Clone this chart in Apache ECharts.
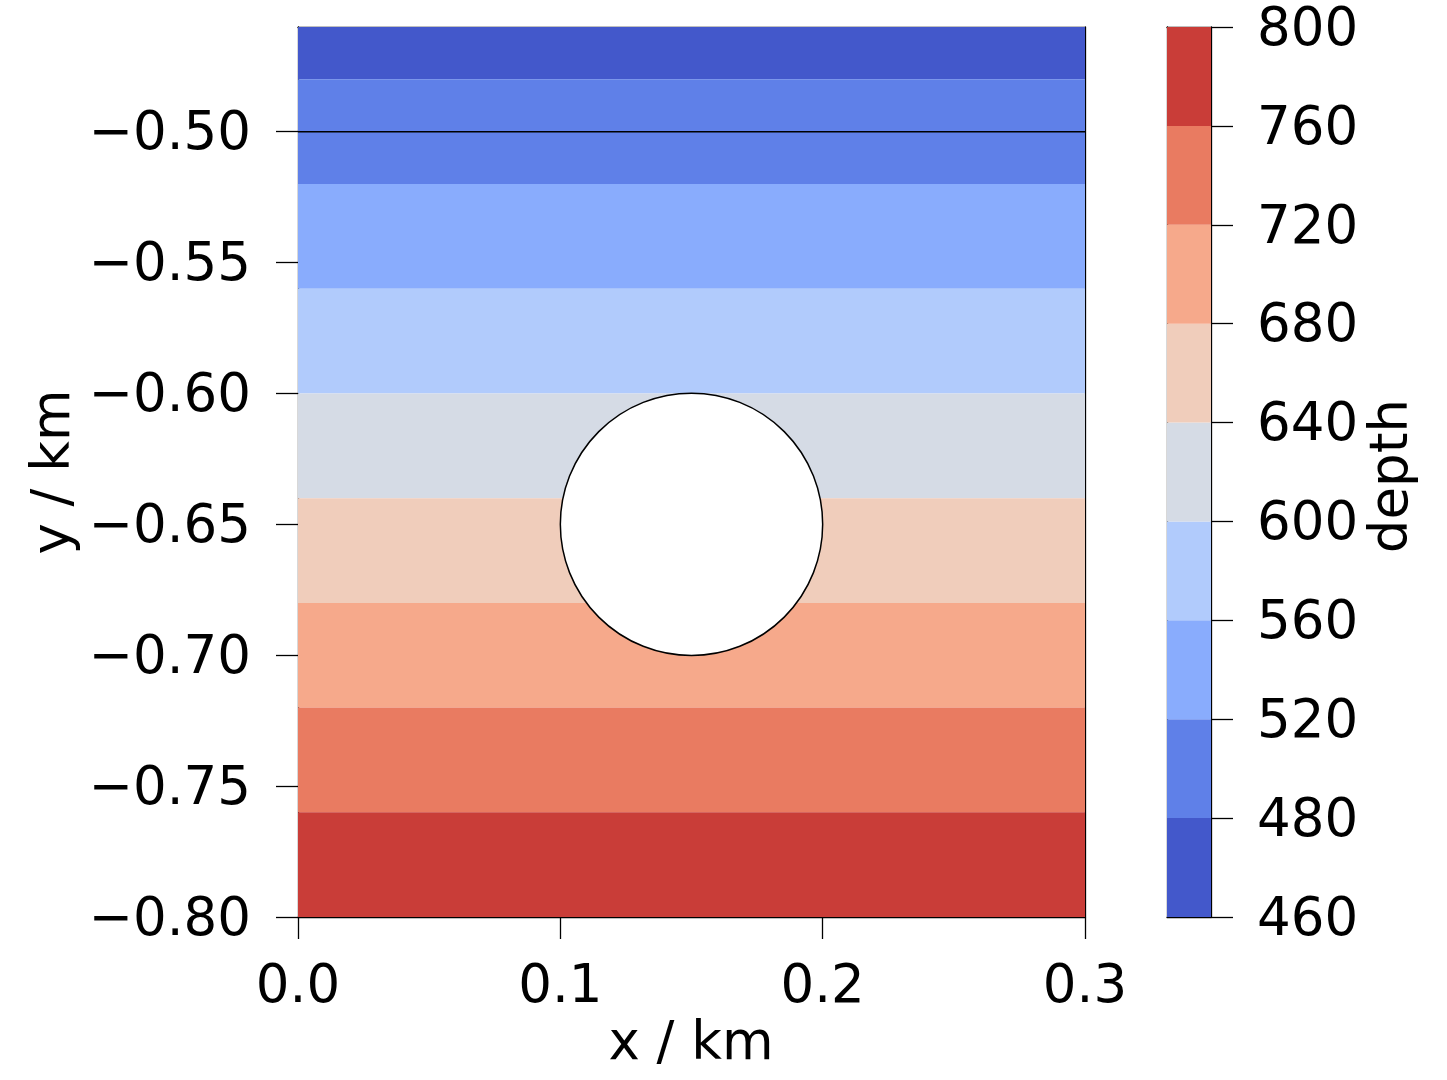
<!doctype html>
<html lang="en">
<head>
    <meta charset="UTF-8">
    <title>depth contour</title>
    <style>
        html, body { margin: 0; padding: 0; background: #fff; }
        #main { width: 1447px; height: 1080px; }
    </style>
</head>
<body>
<div id="main"></div>
<script type="text/javascript" src="https://cdn.jsdelivr.net/npm/echarts@6/dist/echarts.min.js"></script>
<script type="text/javascript">
    // contour levels (depth) and the colour of each filled band
    var levels = [460, 480, 520, 560, 600, 640, 680, 720, 760, 800];
    var bandColors = ['#4358cb', '#5f80e8', '#89acfd', '#b1cbfc', '#d5dbe5',
        '#f0cdbb', '#f6a98b', '#e97b61', '#c93d38'];
    var xRange = [0, 0.3];
    var yRange = [-0.80, -0.46];
    var xTicks = [0.0, 0.1, 0.2, 0.3];
    var yTicks = [-0.80, -0.75, -0.70, -0.65, -0.60, -0.55, -0.50];
    var lineY = -0.50;
    var holeCenter = [0.15, -0.65];
    var holeRadius = 0.05;

    var FONT = 'DejaVu Sans';
    var FS = 53;

    // bands in y (km): depth level / -1000
    var bandData = [];
    for (var i = 0; i < levels.length - 1; i++) {
        bandData.push([xRange[0], xRange[1], -levels[i] / 1000, -levels[i + 1] / 1000, i]);
    }
    var cbarData = [];
    var cbarTicks = [];
    for (var j = 0; j < levels.length; j++) cbarTicks.push(j);
    for (var k = 0; k < levels.length - 1; k++) cbarData.push([0, 1, k, k + 1, k]);

    function fmt(v) {
        return '{t|' + v.toFixed(2).replace('-', '\u2212') + '}';
    }

    function rectItem(params, api) {
        var p0 = api.coord([api.value(0), api.value(3)]);
        var p1 = api.coord([api.value(1), api.value(2)]);
        return {
            type: 'rect',
            shape: {x: p0[0], y: p0[1], width: p1[0] - p0[0], height: p1[1] - p0[1]},
            style: {fill: bandColors[api.value(4)], stroke: null}
        };
    }

    var myChart = echarts.init(document.getElementById('main'));
    var labelStyle = {color: '#000', fontFamily: FONT, fontSize: FS};
    // rich style nudges side labels down a little, like matplotlib's centre baseline
    var shifted = {t: {color: '#000', fontFamily: FONT, fontSize: FS, padding: [8, 0, 0, 0]}};
    var tick = {show: true, inside: false, length: 22, lineStyle: {color: '#000', width: 1.3}};
    var line = {show: true, onZero: false, lineStyle: {color: '#000', width: 1.3}};
    var off = {show: false};

    var option = {
        animation: false,
        backgroundColor: '#fff',
        grid: [
            {left: 298, top: 27, width: 787, height: 890},
            {left: 1167, top: 27, width: 44, height: 890}
        ],
        xAxis: [
            {
                type: 'value', gridIndex: 0, min: xRange[0], max: xRange[1],
                axisLine: line, splitLine: off,
                axisTick: Object.assign({customValues: xTicks}, tick),
                axisLabel: Object.assign({customValues: xTicks, margin: 45,
                    formatter: function (v) { return v.toFixed(1); }}, labelStyle)
            },
            {
                type: 'value', gridIndex: 0, position: 'top', min: xRange[0], max: xRange[1],
                axisLine: line, axisTick: off, axisLabel: off, splitLine: off
            },
            {
                type: 'value', gridIndex: 1, min: 0, max: 1,
                axisLine: line, axisTick: off, axisLabel: off, splitLine: off
            },
            {
                type: 'value', gridIndex: 1, position: 'top', min: 0, max: 1,
                axisLine: line, axisTick: off, axisLabel: off, splitLine: off
            }
        ],
        yAxis: [
            {
                type: 'value', gridIndex: 0, min: yRange[0], max: yRange[1],
                axisLine: line, splitLine: off,
                axisTick: Object.assign({customValues: yTicks}, tick),
                axisLabel: Object.assign({customValues: yTicks, margin: 47,
                    formatter: fmt, rich: shifted}, labelStyle)
            },
            {
                type: 'value', gridIndex: 0, position: 'right', min: yRange[0], max: yRange[1],
                axisLine: line, axisTick: off, axisLabel: off, splitLine: off
            },
            {
                type: 'value', gridIndex: 1, position: 'right', min: 0, max: levels.length - 1,
                axisLine: line, splitLine: off,
                axisTick: Object.assign({customValues: cbarTicks}, tick),
                axisLabel: Object.assign({customValues: cbarTicks, margin: 46, rich: shifted,
                    formatter: function (v) { return '{t|' + levels[Math.round(v)] + '}'; }}, labelStyle)
            },
            {
                type: 'value', gridIndex: 1, position: 'left', min: 0, max: levels.length - 1,
                axisLine: line, axisTick: off, axisLabel: off, splitLine: off
            }
        ],
        graphic: [
            {type: 'text', x: 691, y: 1045, z: 10,
                style: {text: 'x / km', font: FS + 'px "' + FONT + '"', fill: '#000',
                    textAlign: 'center', textVerticalAlign: 'middle'}},
            {type: 'text', x: 55, y: 472, rotation: Math.PI / 2, z: 10,
                style: {text: 'y / km', font: FS + 'px "' + FONT + '"', fill: '#000',
                    textAlign: 'center', textVerticalAlign: 'middle'}},
            {type: 'text', x: 1393, y: 476, rotation: Math.PI / 2, z: 10,
                style: {text: 'depth', font: FS + 'px "' + FONT + '"', fill: '#000',
                    textAlign: 'center', textVerticalAlign: 'middle'}}
        ],
        series: [
            {
                type: 'custom', xAxisIndex: 0, yAxisIndex: 0, z: 1,
                renderItem: rectItem, data: bandData, silent: true
            },
            {
                type: 'line', xAxisIndex: 0, yAxisIndex: 0, z: 3, symbol: 'none',
                lineStyle: {color: '#000', width: 1.5},
                data: [[xRange[0], lineY], [xRange[1], lineY]]
            },
            {
                type: 'custom', xAxisIndex: 0, yAxisIndex: 0, z: 4,
                data: [[holeCenter[0], holeCenter[1], holeRadius]],
                renderItem: function (params, api) {
                    var c = api.coord([api.value(0), api.value(1)]);
                    var r = api.size([api.value(2), 0])[0];
                    return {
                        type: 'circle',
                        shape: {cx: c[0], cy: c[1], r: r},
                        style: {fill: '#fff', stroke: '#000', lineWidth: 1.5}
                    };
                }
            },
            {
                type: 'custom', xAxisIndex: 2, yAxisIndex: 2, z: 1,
                renderItem: rectItem, data: cbarData, silent: true
            }
        ]
    };
    myChart.setOption(option);
</script>
</body>
</html>
